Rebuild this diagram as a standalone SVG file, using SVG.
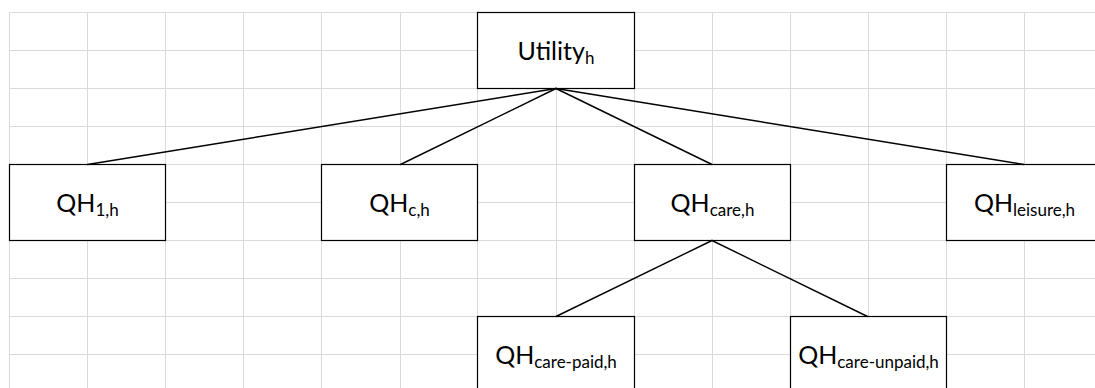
<svg xmlns="http://www.w3.org/2000/svg" width="1095" height="388" viewBox="0 0 1095 388">
<style>
.grid line{stroke:#dadada;stroke-width:1}
.box{fill:#ffffff;stroke:#000000;stroke-width:1.2}
.conn line{stroke:#000000;stroke-width:1.4;stroke-linecap:round}
.lbl{font-family:Lato,"Liberation Sans",sans-serif;font-size:25px;fill:#000000;text-anchor:middle}
.sub{font-size:17px}
</style>
<rect width="1095" height="388" fill="#ffffff"/>
<g class="grid">
<line x1="9.5" y1="12" x2="9.5" y2="388"/>
<line x1="87.5" y1="12" x2="87.5" y2="388"/>
<line x1="165.5" y1="12" x2="165.5" y2="388"/>
<line x1="243.5" y1="12" x2="243.5" y2="388"/>
<line x1="321.5" y1="12" x2="321.5" y2="388"/>
<line x1="400.5" y1="12" x2="400.5" y2="388"/>
<line x1="477.5" y1="12" x2="477.5" y2="388"/>
<line x1="556.5" y1="12" x2="556.5" y2="388"/>
<line x1="634.5" y1="12" x2="634.5" y2="388"/>
<line x1="712.5" y1="12" x2="712.5" y2="388"/>
<line x1="790.5" y1="12" x2="790.5" y2="388"/>
<line x1="868.5" y1="12" x2="868.5" y2="388"/>
<line x1="946.5" y1="12" x2="946.5" y2="388"/>
<line x1="1024.5" y1="12" x2="1024.5" y2="388"/>
<line x1="9" y1="12.5" x2="1095" y2="12.5"/>
<line x1="9" y1="50.5" x2="1095" y2="50.5"/>
<line x1="9" y1="88.5" x2="1095" y2="88.5"/>
<line x1="9" y1="126.5" x2="1095" y2="126.5"/>
<line x1="9" y1="164.5" x2="1095" y2="164.5"/>
<line x1="9" y1="202.5" x2="1095" y2="202.5"/>
<line x1="9" y1="240.5" x2="1095" y2="240.5"/>
<line x1="9" y1="278.5" x2="1095" y2="278.5"/>
<line x1="9" y1="316.5" x2="1095" y2="316.5"/>
<line x1="9" y1="354.5" x2="1095" y2="354.5"/>
</g>
<g id="utility">
<rect class="box" x="477.5" y="12.5" width="157" height="76"/>
<text class="lbl" x="556" y="60">Utility<tspan class="sub" dy="4">h</tspan></text>
</g>
<g id="qh1">
<rect class="box" x="9.5" y="164.5" width="156" height="76"/>
<text class="lbl" x="87.5" y="212">QH<tspan class="sub" dy="4">1,h</tspan></text>
</g>
<g id="qhc">
<rect class="box" x="321.5" y="164.5" width="156" height="76"/>
<text class="lbl" x="399.5" y="212">QH<tspan class="sub" dy="4">c,h</tspan></text>
</g>
<g id="qhcare">
<rect class="box" x="634.5" y="164.5" width="156" height="76"/>
<text class="lbl" x="712.5" y="212">QH<tspan class="sub" dy="4">care,h</tspan></text>
</g>
<g id="qhleisure">
<rect class="box" x="946.5" y="164.5" width="156" height="76"/>
<text class="lbl" x="1024.5" y="212">QH<tspan class="sub" dy="4">leisure,h</tspan></text>
</g>
<g id="qhcarepaid">
<rect class="box" x="477.5" y="316.5" width="157" height="90"/>
<text class="lbl" x="556" y="364">QH<tspan class="sub" dy="4">care-paid,h</tspan></text>
</g>
<g id="qhcareunpaid">
<rect class="box" x="790.5" y="316.5" width="156" height="90"/>
<text class="lbl" x="868.5" y="364">QH<tspan class="sub" dy="4">care-unpaid,h</tspan></text>
</g>
<g id="connectors" class="conn">
<line x1="556" y1="88.5" x2="87.5" y2="164.5"/>
<line x1="556" y1="88.5" x2="400.5" y2="164.5"/>
<line x1="556" y1="88.5" x2="712" y2="164.5"/>
<line x1="556" y1="88.5" x2="1024" y2="164.5"/>
<line x1="712" y1="240.5" x2="556" y2="316.5"/>
<line x1="712" y1="240.5" x2="867.5" y2="316.5"/>
</g>
</svg>
